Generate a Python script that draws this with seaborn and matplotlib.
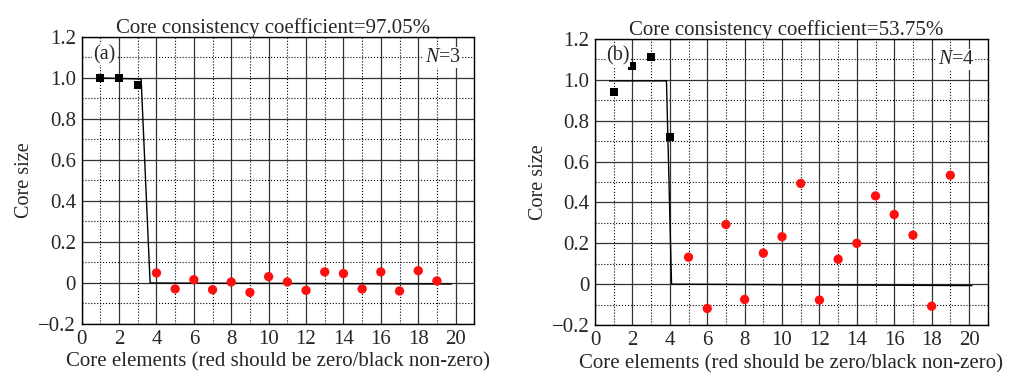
import numpy as np
import pandas as pd
import matplotlib
matplotlib.use('Agg')
import matplotlib.pyplot as plt
import seaborn as sns
from matplotlib.ticker import MultipleLocator

# Panel (a): N=3
elements = list(range(1, 20))
core_a = [1.0, 1.0, 0.967, 0.049, -0.029, 0.016, -0.033, 0.005, -0.046, 0.031,
          0.005, -0.036, 0.054, 0.046, -0.029, 0.054, -0.039, 0.06, 0.01]
n_a = 3
ideal_a_x = [1.0, 3.18, 3.66, 19.77]
ideal_a_y = [1.0, 0.995, 0.0, -0.005]
cc_a = "97.05%"

# Panel (b): N=4
core_b = [0.941, 1.07, 1.113, 0.718, 0.132, -0.119, 0.292, -0.075, 0.152, 0.232,
          0.493, -0.078, 0.122, 0.2, 0.432, 0.341, 0.24, -0.108, 0.533]
n_b = 4
ideal_b_x = [0.78, 3.82, 4.09, 20.16]
ideal_b_y = [0.995, 0.995, 0.0, -0.007]
cc_b = "53.75%"

ytick_vals = [-0.2, 0, 0.2, 0.4, 0.6, 0.8, 1.0, 1.2]
ytick_labels = ['\u22120.2', '0', '0.2', '0.4', '0.6', '0.8', '1.0', '1.2']

sns.set_style("white")
plt.rcParams['font.family'] = ['Liberation Serif', 'DejaVu Serif']
plt.rcParams['mathtext.fontset'] = 'custom'
plt.rcParams['mathtext.it'] = 'Liberation Serif:italic'
plt.rcParams['mathtext.rm'] = 'Liberation Serif'

fig = plt.figure(figsize=(10.12, 3.76), dpi=100)
ax_a = fig.add_axes([0.0807, 0.1383, 0.388, 0.7633])
ax_b = fig.add_axes([0.588, 0.1356, 0.388, 0.7607])


def draw_panel(ax, core, n, ix, iy, cc, tag):
    df = pd.DataFrame({'element': elements, 'core': core})
    df['kind'] = np.where(df['element'] <= n, 'nonzero', 'zero')

    ax.set_xlim(0, 21)
    ax.set_ylim(-0.2, 1.2)
    ax.xaxis.set_major_locator(MultipleLocator(2))
    ax.xaxis.set_minor_locator(MultipleLocator(1))
    ax.set_yticks(ytick_vals)
    ax.set_yticklabels(ytick_labels)
    ax.yaxis.set_minor_locator(MultipleLocator(0.1))
    ax.grid(which='major', color='#333333', linestyle='-', linewidth=0.9)
    ax.grid(which='minor', color='black', linestyle=':', linewidth=0.8)
    ax.set_axisbelow(True)

    sns.lineplot(x=ix, y=iy, ax=ax, color='black', linewidth=1.0,
                 sort=False, estimator=None)
    sns.scatterplot(data=df[df['kind'] == 'nonzero'], x='element', y='core',
                    ax=ax, color='black', marker='s', s=40, edgecolor='black',
                    linewidth=0, zorder=3)
    sns.scatterplot(data=df[df['kind'] == 'zero'], x='element', y='core',
                    ax=ax, color='#ff1010', marker='o', s=45, edgecolor='none',
                    linewidth=0, zorder=3)

    ax.set_title('Core consistency coefficient=' + cc, fontsize=15, pad=3,
                 x=0.487)
    ax.set_xlabel('Core elements (red should be zero/black non-zero)',
                  fontsize=15, labelpad=3)
    ax.set_ylabel('Core size', fontsize=14.5, labelpad=3)
    ax.tick_params(axis='both', labelsize=15, length=0, pad=4)
    for sp in ax.spines.values():
        sp.set_color('black')
        sp.set_linewidth(1.0)

    ax.text(0.6, 1.115, tag, fontsize=14.5, ha='left', va='center',
            bbox=dict(facecolor='white', edgecolor='none', pad=0.5))
    ax.text(20.3, 1.1, '$N$=' + str(n), fontsize=14.5, ha='right', va='center',
            bbox=dict(facecolor='white', edgecolor='none', pad=0.5))


draw_panel(ax_a, core_a, n_a, ideal_a_x, ideal_a_y, cc_a, '(a)')
draw_panel(ax_b, core_b, n_b, ideal_b_x, ideal_b_y, cc_b, '(b)')

fig.savefig('out.png', dpi=100)
